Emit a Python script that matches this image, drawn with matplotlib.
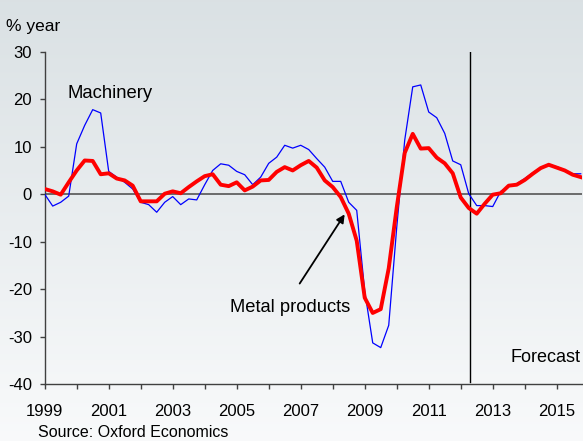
import numpy as np
import matplotlib
matplotlib.use("Agg")
import matplotlib.pyplot as plt

plt.rcParams["font.family"] = ["Liberation Sans", "DejaVu Sans"]
plt.rcParams["axes.unicode_minus"] = False

# quarterly data, 1999 Q1 .. 2015 Q4 (% change on a year earlier)
start_year = 1999
machinery = [
    0.0, -2.5, -1.7, -0.4,      # 1999
    10.6, 14.5, 17.8, 17.1,     # 2000
    4.8, 3.6, 2.5, 1.1,         # 2001
    -1.7, -2.2, -3.8, -1.7,     # 2002
    -0.5, -2.2, -1.0, -1.2,     # 2003
    2.0, 5.0, 6.4, 6.1,         # 2004
    4.8, 4.1, 2.0, 3.6,         # 2005
    6.5, 7.8, 10.3, 9.7,        # 2006
    10.3, 9.4, 7.5, 5.7,        # 2007
    2.7, 2.7, -1.7, -3.4,       # 2008
    -20.4, -31.3, -32.3, -27.6, # 2009
    -7.0, 11.4, 22.6, 23.0,     # 2010
    17.3, 16.1, 12.8, 7.0,      # 2011
    6.2, 0.1, -2.4, -2.4,       # 2012
    -2.6, 0.6, 1.6, 2.2,        # 2013
    3.3, 4.5, 5.6, 6.1,         # 2014
    5.8, 5.1, 4.3, 4.3,         # 2015
]
metal_products = [
    1.1, 0.6, -0.1, 2.5,
    5.0, 7.1, 7.0, 4.2,
    4.4, 3.3, 2.9, 1.8,
    -1.5, -1.5, -1.5, 0.1,
    0.6, 0.2, 1.5, 2.7,
    3.8, 4.2, 2.0, 1.7,
    2.5, 0.8, 1.6, 2.9,
    3.0, 4.7, 5.7, 5.0,
    6.1, 7.0, 5.6, 2.9,
    1.5, -0.6, -4.1, -9.8,
    -21.8, -25.0, -24.2, -15.6,
    -2.8, 8.7, 12.7, 9.6,
    9.7, 7.7, 6.5, 4.4,
    -0.7, -2.9, -4.1, -2.0,
    -0.1, 0.2, 1.8, 2.0,
    3.0, 4.3, 5.5, 6.2,
    5.6, 5.0, 4.1, 3.6,
]
forecast_start = 2012.28
year_ticks = list(range(1999, 2016))
year_labels = [str(y) if (y - 1999) % 2 == 0 else "" for y in year_ticks]
y_ticks = [-40, -30, -20, -10, 0, 10, 20, 30]

quarters = start_year + np.arange(len(machinery)) / 4.0

fig = plt.figure(figsize=(5.83, 4.41), dpi=100)

# soft grey-blue background gradient behind everything
bg = fig.add_axes([0, 0, 1, 1], zorder=-1)
top_col = np.array([0.855, 0.882, 0.894])
bot_col = np.array([0.975, 0.980, 0.984])
t = np.linspace(0, 1, 256)[:, None]
grad = top_col * (1 - t) + bot_col * t
bg.imshow(grad[:, None, :], aspect="auto", extent=[0, 1, 0, 1])
bg.axis("off")

ax = fig.add_axes([44.7 / 583, 1 - 384.2 / 441, 537 / 583, 332.5 / 441])
ax.patch.set_alpha(0)

ax.axhline(0, color="#555555", lw=1.2, zorder=1)
ax.plot(quarters, machinery, color="#0000ff", lw=0.9, zorder=3)
ax.plot(quarters, metal_products, color="#ff0000", lw=2.8, zorder=4,
        solid_joinstyle="round")
ax.plot([forecast_start, forecast_start], [-39.5, 30], color="black", lw=1.0, zorder=2)

ax.set_xlim(1999, 2015.78)
ax.set_ylim(-40, 30)
ax.set_xticks(year_ticks)
ax.set_xticklabels(year_labels)
ax.set_yticks(y_ticks)

for side in ["top", "right"]:
    ax.spines[side].set_visible(False)
for side in ["left", "bottom"]:
    ax.spines[side].set_color("#404040")
    ax.spines[side].set_linewidth(1.0)

ax.tick_params(axis="x", direction="out", length=3.6, width=1, color="#404040",
               labelsize=12, pad=11)
ax.tick_params(axis="y", direction="out", length=3.6, width=1, color="#404040",
               labelsize=12, pad=5.5)

ax.text(1999.71, 20.2, "Machinery", fontsize=13.3, va="baseline", ha="left")
ax.text(2004.79, -24.7, "Metal products", fontsize=13.2, va="baseline", ha="left")
ax.text(2013.56, -35.3, "Forecast", fontsize=13, va="baseline", ha="left")
ax.annotate("", xy=(2008.42, -3.75), xytext=(2006.92, -19.3),
            arrowprops=dict(arrowstyle="-|>", color="black", lw=1.3,
                            mutation_scale=12))

fig.text(6.5 / 583, 1 - 30.5 / 441, "% year", fontsize=12.5, va="baseline", ha="left")
fig.text(37.7 / 583, 1 - 436.7 / 441, "Source: Oxford Economics", fontsize=11.5,
         va="baseline", ha="left")

fig.savefig("out.png", dpi=100)
